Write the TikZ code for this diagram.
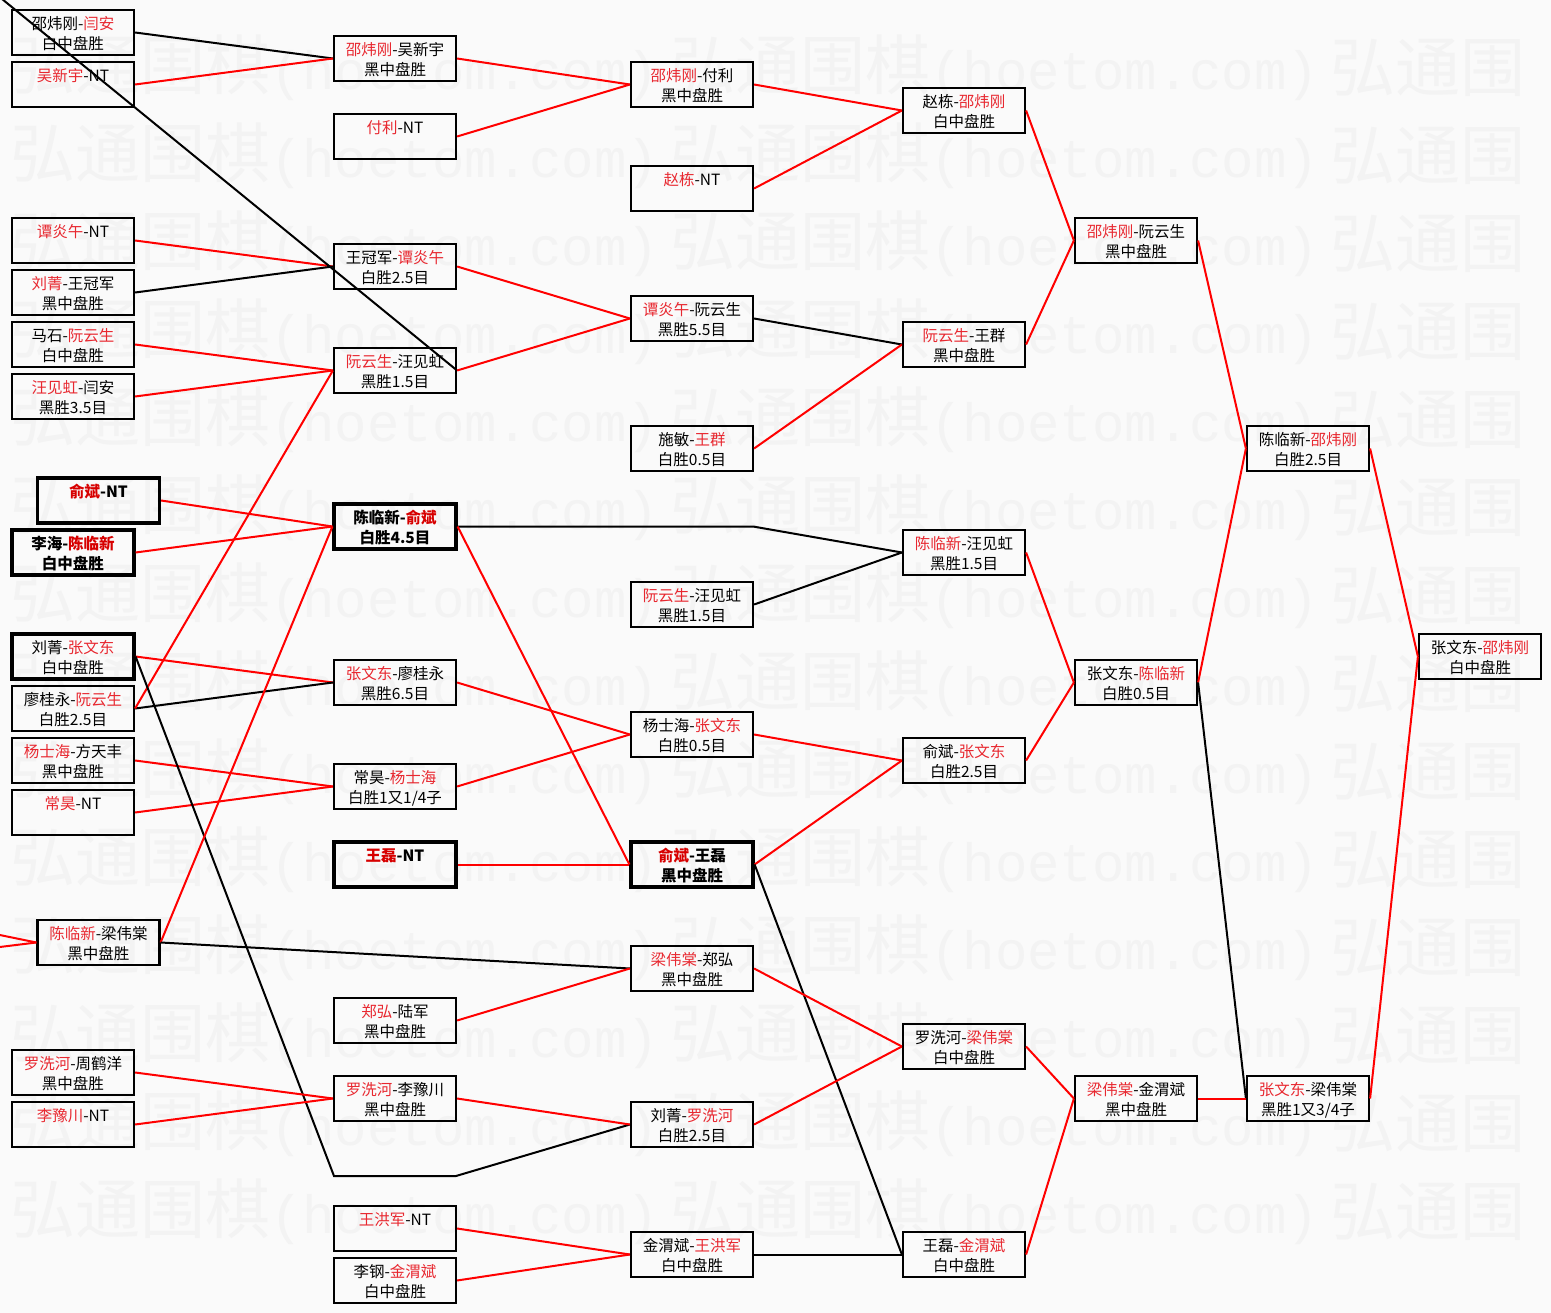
\documentclass[tikz,border=0pt]{standalone}
\usepackage{fontspec}
\setmainfont{Noto Sans CJK SC}
\newfontfamily\wmmono{Liberation Mono}
\definecolor{bgc}{RGB}{250,250,250}
\definecolor{wmc}{RGB}{243,243,243}
\definecolor{wred}{RGB}{232,40,48}
\definecolor{bred}{RGB}{215,0,0}
\definecolor{lred}{RGB}{255,0,0}
\newcommand\Win[1]{\textcolor{wred}{#1}}
\newcommand\Bwin[1]{\textcolor{bred}{#1}}
\newcommand\TwoL[2]{\rule{0pt}{16pt}#1\\#2}
\newcommand\OneL[1]{\rule{0pt}{16pt}#1\\\phantom{白}}
\newcommand\WMtext{弘通围棋{\wmmono\fontsize{54}{54}\selectfont (hoetom.com)}}
\tikzset{
  box/.style={draw=black,line width=2.2pt,minimum width=122pt,minimum height=45pt,inner sep=0pt,align=center,font=\fontsize{15.5}{20}\selectfont},
  heavybox/.style={box,line width=3.2pt},
  boldtext/.style={font=\fontsize{15.5}{20}\selectfont\bfseries},
  wmk/.style={text=wmc,inner sep=0pt,anchor=west,font=\fontsize{65}{70}\selectfont},
  rl/.style={draw=lred,line width=2pt},
  bl/.style={draw=black,line width=2pt}
}
\begin{document}
\begin{tikzpicture}[x=1pt,y=-1pt]
\useasboundingbox (0,0) rectangle (1551,1313);
\fill[bgc] (0,0) rectangle (1551,1313);
% watermark
\foreach \r in {0,...,13}{
  \node[wmk] (wm-\r-0) at (10,68+88*\r) {\WMtext};
  \node[wmk] (wm-\r-1) at (670,68+88*\r) {\WMtext};
  \node[wmk] (wm-\r-2) at (1330,68+88*\r) {弘通围};
}
% column 1
\node[box] (a1) at (73,32.5) {\TwoL{邵炜刚-\Win{闫安}}{白中盘胜}};
\node[box] (a2) at (73,84.5) {\OneL{\Win{吴新宇}-NT}};
\node[box] (a3) at (73,240.5) {\OneL{\Win{谭炎午}-NT}};
\node[box] (a4) at (73,292.5) {\TwoL{\Win{刘菁}-王冠军}{黑中盘胜}};
\node[box] (a5) at (73,344.5) {\TwoL{马石-\Win{阮云生}}{白中盘胜}};
\node[box] (a6) at (73,396.5) {\TwoL{\Win{汪见虹}-闫安}{黑胜3.5目}};
\node[heavybox,boldtext] (a7) at (98.5,500.5) {\OneL{\Bwin{俞斌}-NT}};
\node[heavybox,boldtext] (a8) at (73,552.5) {\TwoL{李海-\Bwin{陈临新}}{白中盘胜}};
\node[heavybox] (a9) at (73,656.5) {\TwoL{刘菁-\Win{张文东}}{白中盘胜}};
\node[box] (a10) at (73,708.5) {\TwoL{廖桂永-\Win{阮云生}}{白胜2.5目}};
\node[box] (a11) at (73,760.5) {\TwoL{\Win{杨士海}-方天丰}{黑中盘胜}};
\node[box] (a12) at (73,812.5) {\OneL{\Win{常昊}-NT}};
\node[box] (a13) at (98.5,942.5) {\TwoL{\Win{陈临新}-梁伟棠}{黑中盘胜}};
\node[box] (a14) at (73,1072.5) {\TwoL{\Win{罗洗河}-周鹤洋}{黑中盘胜}};
\node[box] (a15) at (73,1124.5) {\OneL{\Win{李豫川}-NT}};
% column 2
\node[box] (b1) at (395,58.5) {\TwoL{\Win{邵炜刚}-吴新宇}{黑中盘胜}};
\node[box] (b2) at (395,136.5) {\OneL{\Win{付利}-NT}};
\node[box] (b3) at (395,266.5) {\TwoL{王冠军-\Win{谭炎午}}{白胜2.5目}};
\node[box] (b4) at (395,370.5) {\TwoL{\Win{阮云生}-汪见虹}{黑胜1.5目}};
\node[heavybox,boldtext] (b5) at (395,526.5) {\TwoL{陈临新-\Bwin{俞斌}}{白胜4.5目}};
\node[box] (b6) at (395,682.5) {\TwoL{\Win{张文东}-廖桂永}{黑胜6.5目}};
\node[box] (b7) at (395,786.5) {\TwoL{常昊-\Win{杨士海}}{白胜1又1/4子}};
\node[heavybox,boldtext] (b8) at (395,864.5) {\OneL{\Bwin{王磊}-NT}};
\node[box] (b9) at (395,1020.5) {\TwoL{\Win{郑弘}-陆军}{黑中盘胜}};
\node[box] (b10) at (395,1098.5) {\TwoL{\Win{罗洗河}-李豫川}{黑中盘胜}};
\node[box] (b11) at (395,1228.5) {\OneL{\Win{王洪军}-NT}};
\node[box] (b12) at (395,1280.5) {\TwoL{李钢-\Win{金渭斌}}{白中盘胜}};
% column 3
\node[box] (c1) at (692,84.5) {\TwoL{\Win{邵炜刚}-付利}{黑中盘胜}};
\node[box] (c2) at (692,188.5) {\OneL{\Win{赵栋}-NT}};
\node[box] (c3) at (692,318.5) {\TwoL{\Win{谭炎午}-阮云生}{黑胜5.5目}};
\node[box] (c4) at (692,448.5) {\TwoL{施敏-\Win{王群}}{白胜0.5目}};
\node[box] (c5) at (692,604.5) {\TwoL{\Win{阮云生}-汪见虹}{黑胜1.5目}};
\node[box] (c6) at (692,734.5) {\TwoL{杨士海-\Win{张文东}}{白胜0.5目}};
\node[heavybox,boldtext] (c7) at (692,864.5) {\TwoL{\Bwin{俞斌}-王磊}{黑中盘胜}};
\node[box] (c8) at (692,968.5) {\TwoL{\Win{梁伟棠}-郑弘}{黑中盘胜}};
\node[box] (c9) at (692,1124.5) {\TwoL{刘菁-\Win{罗洗河}}{白胜2.5目}};
\node[box] (c10) at (692,1254.5) {\TwoL{金渭斌-\Win{王洪军}}{白中盘胜}};
% column 4
\node[box] (d1) at (964,110.5) {\TwoL{赵栋-\Win{邵炜刚}}{白中盘胜}};
\node[box] (d2) at (964,344.5) {\TwoL{\Win{阮云生}-王群}{黑中盘胜}};
\node[box] (d3) at (964,552.5) {\TwoL{\Win{陈临新}-汪见虹}{黑胜1.5目}};
\node[box] (d4) at (964,760.5) {\TwoL{俞斌-\Win{张文东}}{白胜2.5目}};
\node[box] (d5) at (964,1046.5) {\TwoL{罗洗河-\Win{梁伟棠}}{白中盘胜}};
\node[box] (d6) at (964,1254.5) {\TwoL{王磊-\Win{金渭斌}}{白中盘胜}};
% column 5
\node[box] (e1) at (1136,240.5) {\TwoL{\Win{邵炜刚}-阮云生}{黑中盘胜}};
\node[box] (e2) at (1136,682.5) {\TwoL{张文东-\Win{陈临新}}{白胜0.5目}};
\node[box] (e3) at (1136,1098.5) {\TwoL{\Win{梁伟棠}-金渭斌}{黑中盘胜}};
% column 6
\node[box] (f1) at (1308,448.5) {\TwoL{陈临新-\Win{邵炜刚}}{白胜2.5目}};
\node[box] (f2) at (1308,1098.5) {\TwoL{\Win{张文东}-梁伟棠}{黑胜1又3/4子}};
% column 7
\node[box] (g1) at (1480,656.5) {\TwoL{张文东-\Win{邵炜刚}}{白中盘胜}};
% free ends and bends
\coordinate (tl) at (-9,-10);
\coordinate (l1) at (-10,933);
\coordinate (l2) at (-10,948.2);
\coordinate (k1) at (334,1176);
\coordinate (k2) at (456,1176);
\coordinate (k3) at (753,526.5);
% connectors col1 -> col2
\draw[bl] (a1.east) -- (b1.west);
\draw[rl] (a2.east) -- (b1.west);
\draw[rl] (a3.east) -- (b3.west);
\draw[bl] (a4.east) -- (b3.west);
\draw[rl] (a5.east) -- (b4.west);
\draw[rl] (a6.east) -- (b4.west);
\draw[bl] (tl) -- (b4.east);
\draw[rl] (a7.east) -- (b5.west);
\draw[rl] (a8.east) -- (b5.west);
\draw[rl] (a9.east) -- (b6.west);
\draw[bl] (a10.east) -- (b6.west);
\draw[rl] (a10.east) -- (b4.west);
\draw[rl] (a11.east) -- (b7.west);
\draw[rl] (a12.east) -- (b7.west);
\draw[bl] (a9.east) -- (k1) -- (k2) -- (c9.west);
\draw[rl] (l1) -- (a13.west);
\draw[rl] (l2) -- (a13.west);
\draw[rl] (a13.east) -- (b5.west);
\draw[bl] (a13.east) -- (c8.west);
\draw[rl] (a14.east) -- (b10.west);
\draw[rl] (a15.east) -- (b10.west);
% col2 -> col3
\draw[rl] (b1.east) -- (c1.west);
\draw[rl] (b2.east) -- (c1.west);
\draw[rl] (b3.east) -- (c3.west);
\draw[rl] (b4.east) -- (c3.west);
\draw[bl] (b5.east) -- (k3) -- (d3.west);
\draw[rl] (b5.east) -- (c7.west);
\draw[rl] (b6.east) -- (c6.west);
\draw[rl] (b7.east) -- (c6.west);
\draw[rl] (b8.east) -- (c7.west);
\draw[rl] (b9.east) -- (c8.west);
\draw[rl] (b10.east) -- (c9.west);
\draw[rl] (b11.east) -- (c10.west);
\draw[rl] (b12.east) -- (c10.west);
% col3 -> col4
\draw[rl] (c1.east) -- (d1.west);
\draw[rl] (c2.east) -- (d1.west);
\draw[bl] (c3.east) -- (d2.west);
\draw[rl] (c4.east) -- (d2.west);
\draw[bl] (c5.east) -- (d3.west);
\draw[rl] (c6.east) -- (d4.west);
\draw[rl] (c7.east) -- (d4.west);
\draw[bl] (c7.east) -- (d6.west);
\draw[rl] (c8.east) -- (d5.west);
\draw[rl] (c9.east) -- (d5.west);
\draw[bl] (c10.east) -- (d6.west);
% col4 -> col5
\draw[rl] (d1.east) -- (e1.west);
\draw[rl] (d2.east) -- (e1.west);
\draw[rl] (d3.east) -- (e2.west);
\draw[rl] (d4.east) -- (e2.west);
\draw[rl] (d5.east) -- (e3.west);
\draw[rl] (d6.east) -- (e3.west);
% col5 -> col6
\draw[rl] (e1.east) -- (f1.west);
\draw[rl] (e2.east) -- (f1.west);
\draw[bl] (e2.east) -- (f2.west);
\draw[rl] (e3.east) -- (f2.west);
% col6 -> col7
\draw[rl] (f1.east) -- (g1.west);
\draw[rl] (f2.east) -- (g1.west);
\end{tikzpicture}
\end{document}
